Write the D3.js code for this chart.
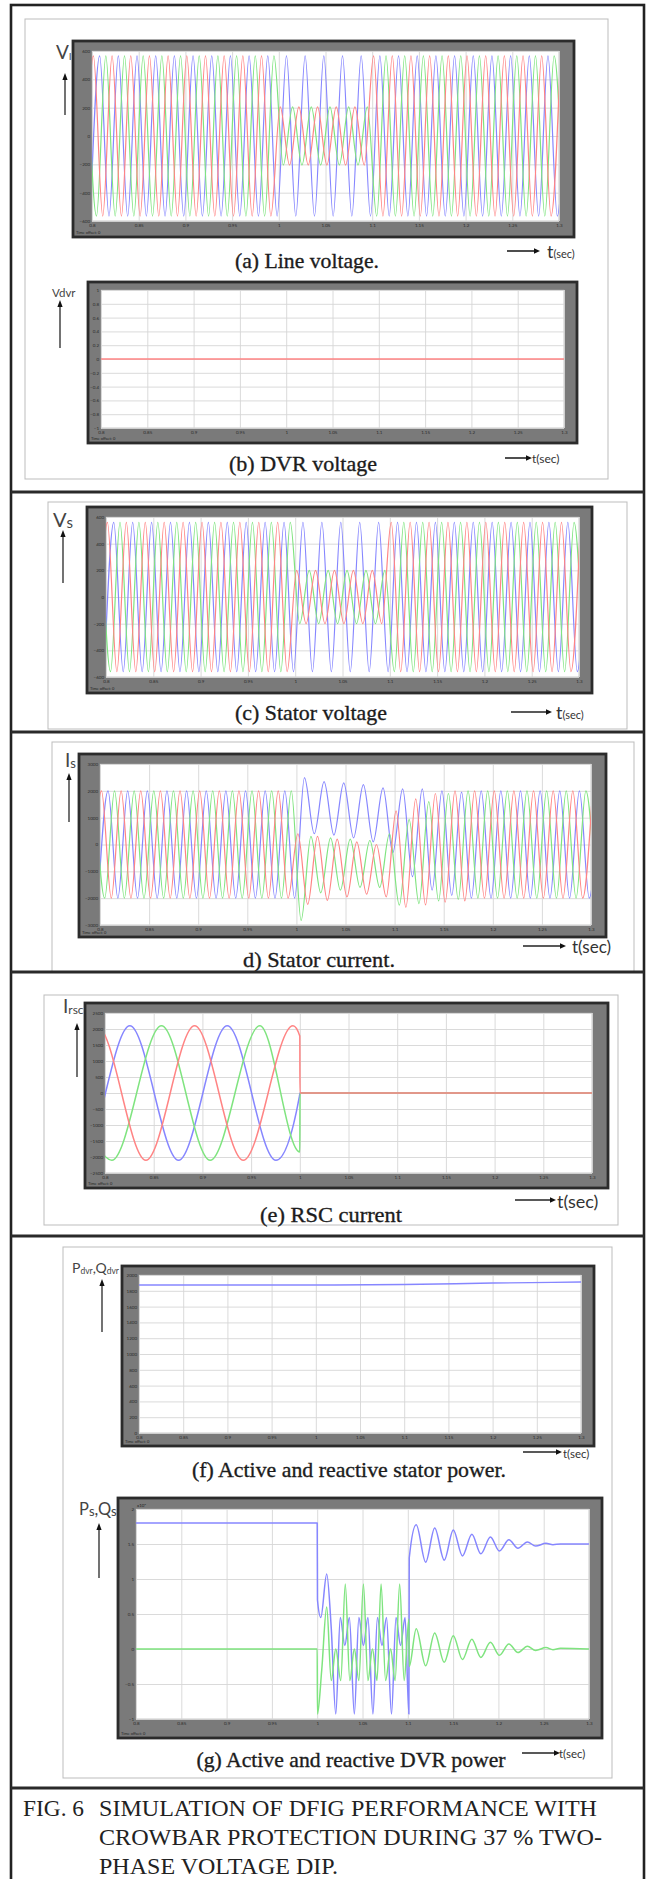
<!DOCTYPE html>
<html><head><meta charset="utf-8">
<script src="https://cdn.jsdelivr.net/npm/d3@7"></script>
<style>html,body{margin:0;padding:0;background:#fff}svg{display:block}</style>
</head><body>
<script>
// ================= DATA =================
const timeTicks = [0.8, 0.85, 0.9, 0.95, 1, 1.05, 1.1, 1.15, 1.2, 1.25, 1.3];
const timeTickLabels = ["0.8","0.85","0.9","0.95","1","1.05","1.1","1.15","1.2","1.25","1.3"];
const halfPeriod = 0.01; // 50 Hz waveforms: one extremum every 10 ms

// first-extremum times of the three phases
const phaseT0 = { red: 0.7915, blue: 0.7982, green: 0.7948 };

// (a) line voltage: successive extrema (V)
const lineVoltRed = [-565,565,-565,565,-565,565,-565,565,-565,565,-565,565,-565,565,-565,565,-565,565,-565,565,-565,
  205,-205,205,-205,205,-205,205,-205,205,-205,
  565,-565,565,-565,565,-565,565,-565,565,-565,565,-565,565,-565,565,-565,565,-565,565,-565,565];
const lineVoltBlue = [-565,565,-565,565,-565,565,-565,565,-565,565,-565,565,-565,565,-565,565,-565,565,-565,565,-565,
  565,-565,565,-565,565,-565,565,-565,565,-565,
  565,-565,565,-565,565,-565,565,-565,565,-565,565,-565,565,-565,565,-565,565,-565,565,-565,565];
const lineVoltGreen = [565,-565,565,-565,565,-565,565,-565,565,-565,565,-565,565,-565,565,-565,565,-565,565,-565,565,
  -205,205,-205,205,-205,205,-205,205,-205,205,
  -565,565,-565,565,-565,565,-565,565,-565,565,-565,565,-565,565,-565,565,-565,565,-565,565,-565];

// (b) DVR voltage
const dvrVoltRed = [[0.8, 0], [1.3, 0]];

// (c) stator voltage: successive extrema (V)
const statorVoltRed = [-560,560,-560,560,-560,560,-560,560,-560,560,-560,560,-560,560,-560,560,-560,560,-560,560,-560,
  200,-200,200,-200,200,-200,200,-200,200,-200,
  560,-560,560,-560,560,-560,560,-560,560,-560,560,-560,560,-560,560,-560,560,-560,560,-560,560];
const statorVoltBlue = [-560,560,-560,560,-560,560,-560,560,-560,560,-560,560,-560,560,-560,560,-560,560,-560,560,-560,
  560,-560,560,-560,560,-560,560,-560,560,-560,
  560,-560,560,-560,560,-560,560,-560,560,-560,560,-560,560,-560,560,-560,560,-560,560,-560,560];
const statorVoltGreen = [560,-560,560,-560,560,-560,560,-560,560,-560,560,-560,560,-560,560,-560,560,-560,560,-560,560,
  -200,200,-200,200,-200,200,-200,200,-200,200,
  -560,560,-560,560,-560,560,-560,560,-560,560,-560,560,-560,560,-560,560,-560,560,-560,560,-560];

// (d) stator current: successive extrema (A)
const statorCurRed = [-2000,2000,-2000,2000,-2000,2000,-2000,2000,-2000,2000,-2000,2000,-2000,2000,-2000,2000,-2000,2000,-2000,2000,-2000,
  400,-2230,300,-2080,200,-1950,100,-1850,0,-1950,1250,-2340,1700,-2250,1900,-2150,2000,-2100,
  2000,-2000,2000,-2000,2000,-2000,2000,-2000,2000,-2000,2000,-2000,2000];
const statorCurBlue = [-2000,2000,-2000,2000,-2000,2000,-2000,2000,-2000,2000,-2000,2000,-2000,2000,-2000,2000,-2000,2000,-2000,2000,-2000,
  2490,400,2340,350,2300,250,2230,100,2110,-300,2075,-1200,2075,-1700,2000,-1900,1950,-2000,
  2000,-2000,2000,-2000,2000,-2000,2000,-2000,2000,-2000,2000,-2000,2000];
const statorCurGreen = [2000,-2000,2000,-2000,2000,-2000,2000,-2000,2000,-2000,2000,-2000,2000,-2000,2000,-2000,2000,-2000,2000,-2000,2000,
  -2830,300,-1800,250,-1700,200,-1600,150,-1600,400,-2260,940,-2200,1600,-2100,1900,-2050,2000,
  -2000,2000,-2000,2000,-2000,2000,-2000,2000,-2000,2000,-2000,2000,-2000];

// (e) RSC current [t, A]
const rscRed   = [[0.742,-2100],[0.792,2100],[0.842,-2100],[0.892,2100],[0.942,-2100],[0.993,2100],[1.0,1780],[1.0002,0],[1.3,0]];
const rscBlue  = [[0.7255,2100],[0.7755,-2100],[0.8255,2100],[0.8755,-2100],[0.9255,2100],[0.9755,-2100],[0.9995,-120],[1.0002,0],[1.3,0]];
const rscGreen = [[0.757,2100],[0.807,-2100],[0.858,2100],[0.908,-2100],[0.959,2100],[1.0,-1840],[1.0002,0],[1.3,0]];

// (f) power [t, value]
const statorPowBlue = [[0.8,1873],[1.0,1873],[1.1,1880],[1.2,1898],[1.3,1911]];

// (g) power [t, x10^6]
const dvrP = [[0.8,1.8],[1.0,1.8],[1.0003,0.7],[1.004,0.45],[1.0105,1.07],[1.0155,0.3],[1.0205,-0.93],[1.0255,0.45],[1.0305,0.05],
  [1.0355,0.45],[1.041,-0.93],[1.046,0.45],[1.051,0.05],[1.056,0.45],[1.0615,-0.93],[1.0665,0.45],[1.0715,0.05],[1.0765,0.45],
  [1.082,-0.93],[1.087,0.45],[1.092,0.05],[1.097,0.45],[1.1012,-0.93],[1.1016,1.3],[1.1093,1.775],[1.1197,1.24],[1.1297,1.73],
  [1.1402,1.27],[1.1502,1.70],[1.1603,1.33],[1.1707,1.64],[1.1806,1.36],[1.1912,1.60],[1.2011,1.40],[1.2116,1.56],[1.2216,1.44],
  [1.2320,1.53],[1.2411,1.47],[1.2525,1.51],[1.2602,1.49],[1.2685,1.5],[1.3,1.5]];
const dvrQ = [[0.8,0],[1.0,0],[1.0003,-0.93],[1.005,-0.3],[1.0105,0.6],[1.0155,-0.45],[1.0205,0.0],[1.026,-0.45],[1.031,0.93],
  [1.036,-0.45],[1.041,0.0],[1.046,-0.45],[1.051,0.93],[1.056,-0.45],[1.061,0.0],[1.066,-0.45],[1.0705,0.93],[1.0755,-0.45],
  [1.081,0.0],[1.086,-0.45],[1.091,0.93],[1.096,-0.45],[1.1012,0.43],[1.1016,-0.25],[1.1093,0.29],[1.1197,-0.24],[1.1297,0.23],
  [1.1402,-0.19],[1.1502,0.19],[1.1603,-0.15],[1.1707,0.14],[1.1806,-0.12],[1.1912,0.095],[1.2011,-0.09],[1.2116,0.07],
  [1.2216,-0.05],[1.2320,0.04],[1.2411,-0.02],[1.2525,0.02],[1.2602,-0.01],[1.2685,0.01],[1.3,0]];

// y tick values per panel
const yTicksVolt = [-600,-400,-200,0,200,400,600];
const yTicksDvrV = [-1,-0.8,-0.6,-0.4,-0.2,0,0.2,0.4,0.6,0.8,1];
const yTicksCur  = [-3000,-2000,-1000,0,1000,2000,3000];
const yTicksRsc  = [-2500,-2000,-1500,-1000,-500,0,500,1000,1500,2000,2500];
const yTicksPow  = [0,200,400,600,800,1000,1200,1400,1600,1800,2000];
const yTicksPq   = [-1,-0.5,0,0.5,1,1.5,2];

// ================= LAYOUT / STYLE =================
const W = 646, H = 1879;
const C = { blue: "#8686ff", red: "#ff8484", green: "#7fe47f" };
const L = {
  a: { frame: [73,41,574,237],   plot: [92,51,559,221] },
  b: { frame: [88,282,577,443],  plot: [101,290,564,428] },
  c: { frame: [87,507,592,693],  plot: [106,517,579,677] },
  d: { frame: [79,754,606,937],  plot: [100,764,591,925] },
  e: { frame: [85,1003,608,1188],plot: [105,1013,592,1173] },
  f: { frame: [122,1266,594,1446],plot:[139,1275,581,1433] },
  g: { frame: [118,1498,602,1738],plot:[136,1509,589,1719] }
};

const svg = d3.select("body").append("svg").attr("width", W).attr("height", H);
const defs = svg.append("defs");

function extrema(t0, vals) { return vals.map((v, i) => [t0 + i * halfPeriod, v]); }

// light grey frames
[[25,19,608,479],[48,502,627,729],[52,742,634,972],[44,995,618,1225],[63,1247,612,1778]].forEach(r => {
  svg.append("rect").attr("x", r[0]).attr("y", r[1]).attr("width", r[2]-r[0]).attr("height", r[3]-r[1])
    .attr("fill", "none").attr("stroke", "#bdbdbd").attr("stroke-width", 1);
});

function drawScope(id, yDomain, yTicks, series, lineW) {
  const [fx0, fy0, fx1, fy1] = L[id].frame, [px0, py0, px1, py1] = L[id].plot;
  const g = svg.append("g");
  g.append("rect").attr("x", fx0).attr("y", fy0).attr("width", fx1-fx0).attr("height", fy1-fy0)
    .attr("fill", "#7a7a7a").attr("stroke", "#2b2b2b").attr("stroke-width", 2.8);
  g.append("rect").attr("x", px0).attr("y", py0).attr("width", px1-px0).attr("height", py1-py0)
    .attr("fill", "#fff").attr("stroke", "#a8a8a8").attr("stroke-width", 0.6);
  const x = d3.scaleLinear().domain([0.8, 1.3]).range([px0, px1]);
  const y = d3.scaleLinear().domain(yDomain).range([py1, py0]);
  const ax = g.append("g").attr("transform", `translate(0,${py1})`)
    .call(d3.axisBottom(x).tickValues(timeTicks).tickFormat((d, i) => timeTickLabels[i]).tickSize(-(py1-py0)).tickPadding(2.5));
  const ay = g.append("g").attr("transform", `translate(${px0},0)`)
    .call(d3.axisLeft(y).tickValues(yTicks).tickFormat(d3.format("~g")).tickSize(-(px1-px0)).tickPadding(2));
  [ax, ay].forEach(a => {
    a.select(".domain").remove();
    a.selectAll(".tick line").attr("stroke", "#d6d6d6").attr("stroke-width", 0.9);
    a.selectAll(".tick text").attr("font-size", 4.5).attr("fill", "#2a2a2a").attr("font-family", "Lato, sans-serif");
  });
  const cid = "clip-" + id;
  defs.append("clipPath").attr("id", cid).append("rect")
    .attr("x", px0).attr("y", py0).attr("width", px1-px0).attr("height", py1-py0);
  const lg = g.append("g").attr("clip-path", `url(#${cid})`);
  const line = d3.line().x(d => x(d[0])).y(d => y(d[1])).curve(d3.curveMonotoneX);
  series.forEach(s => {
    lg.append("path").datum(s.points).attr("d", line).attr("fill", "none")
      .attr("stroke", s.color).attr("stroke-width", lineW).attr("stroke-linejoin", "round");
  });
  g.append("text").attr("x", fx0+3).attr("y", fy1-3).attr("font-size", 4).attr("fill", "#222")
    .attr("font-family", "Lato, sans-serif").text("Time offset:  0");
  return { x, y, g };
}

drawScope("a", [-600, 600], yTicksVolt, [
  { points: extrema(phaseT0.blue, lineVoltBlue), color: C.blue },
  { points: extrema(phaseT0.green, lineVoltGreen), color: C.green },
  { points: extrema(phaseT0.red, lineVoltRed), color: C.red }
], 1.2);
drawScope("b", [-1, 1], yTicksDvrV, [ { points: dvrVoltRed, color: C.red } ], 1.3);
drawScope("c", [-600, 600], yTicksVolt, [
  { points: extrema(phaseT0.blue, statorVoltBlue), color: C.blue },
  { points: extrema(phaseT0.green, statorVoltGreen), color: C.green },
  { points: extrema(phaseT0.red, statorVoltRed), color: C.red }
], 1.2);
drawScope("d", [-3000, 3000], yTicksCur, [
  { points: extrema(phaseT0.blue, statorCurBlue), color: C.blue },
  { points: extrema(phaseT0.green, statorCurGreen), color: C.green },
  { points: extrema(phaseT0.red, statorCurRed), color: C.red }
], 1.2);
drawScope("e", [-2500, 2500], yTicksRsc, [
  { points: rscBlue, color: C.blue },
  { points: rscGreen, color: C.green },
  { points: rscRed, color: C.red }
], 1.5);
drawScope("f", [0, 2000], yTicksPow, [ { points: statorPowBlue, color: C.blue } ], 1.4);
const sg = drawScope("g", [-1, 2], yTicksPq, [
  { points: dvrP, color: C.blue },
  { points: dvrQ, color: C.green }
], 1.5);
sg.g.append("text").attr("x", L.g.plot[0]+1).attr("y", L.g.plot[1]-2).attr("font-size", 4.5).attr("fill", "#222")
  .attr("font-family", "Lato, sans-serif").text("x10⁶");

// ----- axis names with up arrows -----
function upArrow(x, yTop, yBot) {
  svg.append("line").attr("x1", x).attr("x2", x).attr("y1", yTop+5).attr("y2", yBot)
    .attr("stroke", "#5a5a5a").attr("stroke-width", 1.7);
  svg.append("path").attr("d", `M${x-2.6},${yTop+7}L${x},${yTop}L${x+2.6},${yTop+7}Z`).attr("fill", "#111");
}
function axisName(x, y, parts) {
  const t = svg.append("text").attr("x", x).attr("y", y).attr("fill", "#444").attr("font-family", "Lato, 'Open Sans', sans-serif");
  parts.forEach(p => { const s = t.append("tspan").attr("font-size", p[1]).text(p[0]); if (p[2]) s.attr("dy", p[2]); });
}
axisName(56, 59, [["V", 19], ["l", 10, 1]]); upArrow(65, 73, 115);
axisName(52, 297, [["Vdvr", 11.5]]); upArrow(60, 300, 348);
axisName(53, 527, [["V", 20], ["s", 15, 1]]); upArrow(63, 530, 583);
axisName(65, 767, [["I", 19], ["s", 13, 1]]); upArrow(69, 773, 822);
axisName(63, 1013, [["I", 19], ["rsc", 12, 1]]); upArrow(77, 1023, 1077);
axisName(72, 1273, [["P", 14], ["dvr", 8.5, 1], [",Q", 14, -1], ["dvr", 8.5, 1]]); upArrow(102, 1279, 1332);
axisName(79, 1515, [["P", 16.5], ["s", 13, 1], [",Q", 16.5, -1], ["s", 13, 1]]); upArrow(99, 1523, 1578);

// ----- t(sec) arrows -----
function tArrow(x0, x1, y, tx, ty, parts) {
  svg.append("line").attr("x1", x0).attr("x2", x1-4).attr("y1", y).attr("y2", y).attr("stroke", "#222").attr("stroke-width", 1.6);
  svg.append("path").attr("d", `M${x1-6},${y-2.8}L${x1},${y}L${x1-6},${y+2.8}Z`).attr("fill", "#111");
  const t = svg.append("text").attr("x", tx).attr("y", ty).attr("fill", "#333").attr("font-family", "Lato, 'Open Sans', sans-serif");
  parts.forEach(p => t.append("tspan").attr("font-size", p[1]).text(p[0]));
}
tArrow(507, 540, 251, 547, 258, [["t", 18], ["(sec)", 11]]);
tArrow(505, 532, 458, 532, 463, [["t(sec)", 12]]);
tArrow(511, 552, 712, 556, 719, [["t", 18], ["(sec)", 11]]);
tArrow(523, 566, 946, 572, 953, [["t(sec)", 17]]);
tArrow(515, 556, 1200, 557, 1208, [["t(sec)", 18]]);
tArrow(523, 562, 1452, 563, 1458, [["t(sec)", 11.5]]);
tArrow(522, 560, 1753, 559, 1758, [["t(sec)", 11.5]]);

// ----- panel captions -----
function caption(cx, y, text, width) {
  svg.append("text").attr("x", cx).attr("y", y).attr("text-anchor", "middle")
    .attr("font-family", "'Liberation Serif', 'Times New Roman', serif").attr("font-size", 22).attr("fill", "#1c1c1c")
    .attr("stroke", "#1c1c1c").attr("stroke-width", 0.35)
    .attr("textLength", width).attr("lengthAdjust", "spacingAndGlyphs").text(text);
}
caption(307, 268, "(a) Line voltage.", 144);
caption(303, 471, "(b) DVR voltage", 148);
caption(311, 720, "(c) Stator voltage", 152);
caption(319, 967, "d) Stator current.", 152);
caption(331, 1222, "(e) RSC current", 142);
caption(349, 1477, "(f) Active and reactive stator power.", 314);
caption(351, 1767, "(g) Active and reactive DVR power", 309);

// ----- outer border and separators -----
svg.append("rect").attr("x", 11).attr("y", 5).attr("width", 633).attr("height", 1890)
  .attr("fill", "none").attr("stroke", "#222").attr("stroke-width", 2.6);
[492, 732, 972, 1236, 1788].forEach(yy => {
  svg.append("line").attr("x1", 11).attr("x2", 644).attr("y1", yy).attr("y2", yy)
    .attr("stroke", "#2a2a2a").attr("stroke-width", 3);
});

// ----- figure caption -----
function capLine(x, y, text, width) {
  svg.append("text").attr("x", x).attr("y", y).attr("font-family", "'Liberation Serif', 'Times New Roman', serif")
    .attr("font-size", 22.5).attr("fill", "#222").attr("textLength", width).attr("lengthAdjust", "spacingAndGlyphs").text(text);
}
capLine(23, 1816, "FIG. 6", 61);
capLine(99, 1816, "SIMULATION OF DFIG PERFORMANCE WITH", 498);
capLine(99, 1845, "CROWBAR PROTECTION DURING 37 % TWO-", 503);
capLine(99, 1874, "PHASE VOLTAGE DIP.", 239);
</script>
</body></html>
